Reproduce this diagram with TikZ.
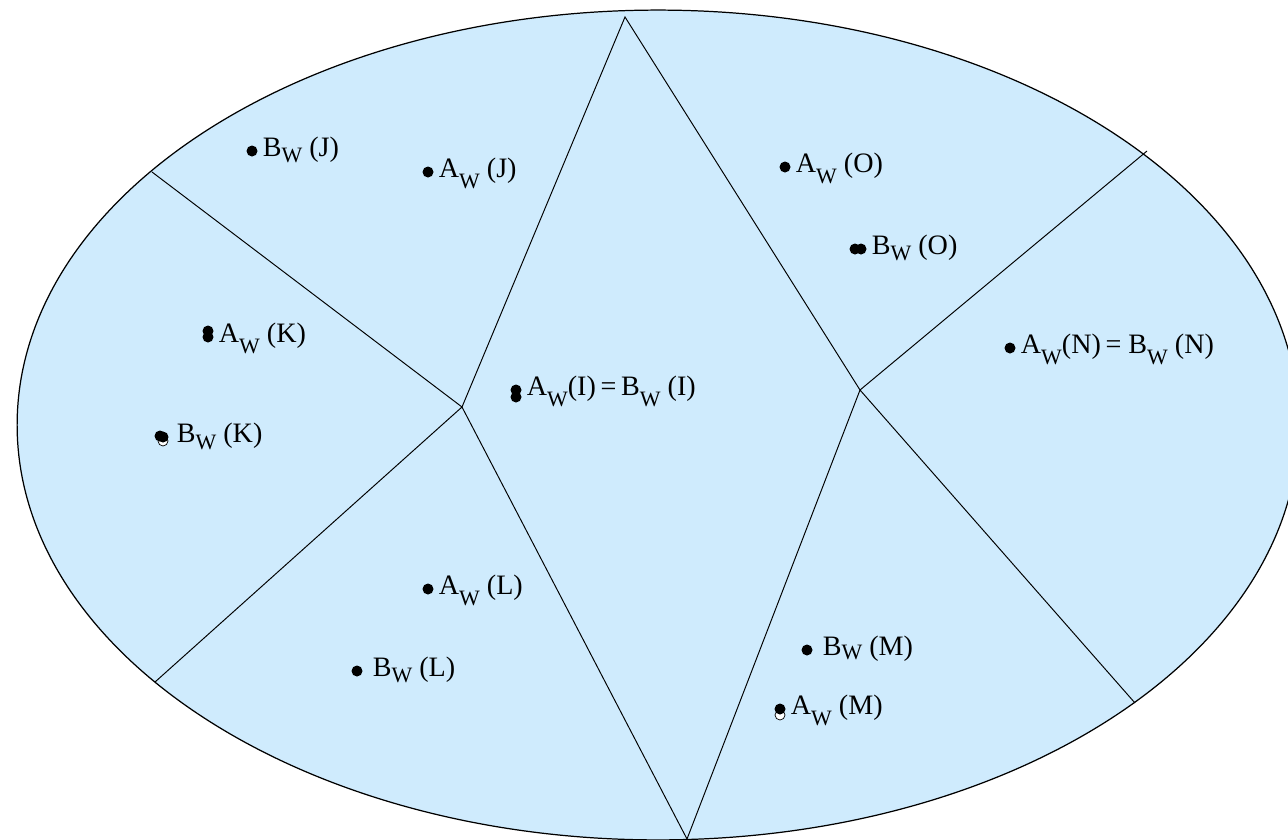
\documentclass[tikz,border=0pt]{standalone}
\usepackage{fontspec}
\setmainfont{Liberation Serif}
\usetikzlibrary{positioning, calc}
\definecolor{regionblue}{RGB}{207,235,253}
\newcommand{\lblfont}{\fontsize{16}{19}\selectfont}
\newcommand{\Wsub}[1][6.2pt]{\raisebox{-#1}{\fontsize{12.5}{14}\selectfont W}}

\begin{document}
\begin{tikzpicture}[
    x=0.02cm, y=-0.02cm,
    border/.style={draw=black, line width=0.7pt, fill=regionblue},
    edge/.style={draw=black, line width=0.55pt},
    dot/.style={circle, fill=black, inner sep=0pt, minimum size=0.22cm},
    ring/.style={circle, draw=black, fill=white, line width=0.4pt, inner sep=0pt,
                 minimum size=0.2cm},
    lbl/.style={anchor=base west, inner sep=0pt, font=\lblfont,
                xshift=0.21cm, yshift=-0.11cm},
  ]
    \useasboundingbox (0,0) rectangle (1288,839);
    \begin{scope}
      \clip (0,0) rectangle (1288,839);
      \draw[border] (658,425) ellipse [x radius=12.82cm, y radius=8.3cm];
    \end{scope}

    % corners of the regions
    \coordinate (top) at (625,17);
    \coordinate (bot) at (687,839);
    \coordinate (lc) at (462,407);
    \coordinate (rc) at (860,390);
    \coordinate (ul) at (152,172);
    \coordinate (dl) at (155,682);
    \coordinate (ur) at (1147,151);
    \coordinate (dr) at (1135,703);

    \draw[edge] (ul) -- (lc) -- (top) -- (rc) -- (ur);
    \draw[edge] (dl) -- (lc) -- (bot) -- (rc) -- (dr);

    % J
    \node[dot] (bj) at (252,151) {};
    \node[lbl] (bjl) at (bj) {B\Wsub[3.5pt]\ (J)};
    \node[dot] (aj) at (428,172) {};
    \node[lbl] (ajl) at (aj) {A\Wsub\ (J)};
    % K
    \node[dot] (ak) at (208,331) {};
    \node[dot] (ak2) at (208,337) {};
    \node[lbl] (akl) at (ak2) {A\Wsub\ (K)};
    \node[ring] (bkr) at (163,441) {};
    \node[dot] (bk) at (160,436) {};
    \node[dot] (bk2) at (163,437) {};
    \node[lbl, xshift=0.06cm] (bkl) at (bk2) {B\Wsub[4pt]\ (K)};
    % I
    \node[dot] (ai) at (516,390) {};
    \node[dot] (ai2) at (516,397) {};
    \node[lbl] (ail) at (ai) {A\Wsub(I)\,=\,B\Wsub\ (I)};
    % L
    \node[dot] (al) at (428,589) {};
    \node[lbl] (all) at (al) {A\Wsub\ (L)};
    \node[dot] (bl) at (357,671) {};
    \node[lbl, xshift=0.1cm] (bll) at (bl) {B\Wsub[3.5pt]\ (L)};
    % O
    \node[dot] (ao) at (785,167) {};
    \node[lbl] (aol) at (ao) {A\Wsub\ (O)};
    \node[dot] (bo) at (855,249) {};
    \node[dot] (bo2) at (861,249) {};
    \node[lbl] (bol) at (bo2) {B\Wsub[3.5pt]\ (O)};
    % N
    \node[dot] (an) at (1010,348) {};
    \node[lbl] (anl) at (an) {A\Wsub(N)\,= B\Wsub\ (N)};
    % M
    \node[dot] (bm) at (807,650) {};
    \node[lbl, xshift=0.1cm] (bml) at (bm) {B\Wsub[2pt]\ (M)};
    \node[ring] (amr) at (780,715) {};
    \node[dot] (am) at (780,709) {};
    \node[lbl] (aml) at (am) {A\Wsub\ (M)};
  \end{tikzpicture}
\end{document}
